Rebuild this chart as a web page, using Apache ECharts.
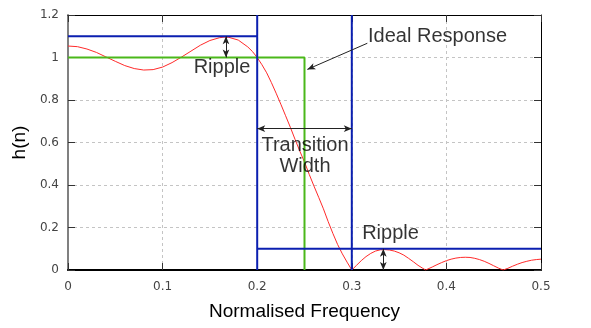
<!DOCTYPE html>
<html>
<head>
<meta charset="utf-8">
<script src="https://cdn.jsdelivr.net/npm/echarts@6/dist/echarts.min.js"></script>
<style>html,body{margin:0;padding:0;background:#fff;}#c{width:591px;height:328px;}</style>
</head>
<body>
<div id="c"></div>
<script>
// Frequency response
const freq = [0,0.01,0.02,0.03,0.04,0.05,0.06,0.07,0.08,0.09,0.10,0.11,0.12,0.13,0.14,0.15,0.16,0.165,0.17,0.18,0.19,0.195,0.20,0.205,0.21,0.215,0.22,0.225,0.23,0.235,0.24,0.245,0.25,0.255,0.26,0.265,0.27,0.275,0.28,0.285,0.29,0.295,0.30,0.305,0.31,0.315,0.32,0.325,0.33,0.335,0.34,0.345,0.35,0.355,0.36,0.365,0.37,0.375,0.378,0.38,0.385,0.39,0.395,0.40,0.405,0.41,0.415,0.42,0.425,0.43,0.435,0.44,0.445,0.45,0.455,0.46,0.465,0.47,0.475,0.48,0.485,0.49,0.495,0.50];
const mag = [1.054,1.051,1.040,1.024,1.003,0.982,0.962,0.948,0.941,0.943,0.955,0.976,1.002,1.030,1.058,1.080,1.093,1.096,1.095,1.082,1.050,1.028,1.000,0.966,0.928,0.882,0.832,0.780,0.726,0.672,0.615,0.560,0.508,0.450,0.395,0.342,0.288,0.228,0.172,0.120,0.076,0.037,0.0,0.022,0.044,0.063,0.078,0.089,0.095,0.096,0.094,0.089,0.081,0.070,0.055,0.039,0.022,0.008,0.0,0.004,0.014,0.025,0.035,0.044,0.051,0.056,0.059,0.060,0.059,0.055,0.049,0.041,0.031,0.020,0.009,0.0,0.008,0.018,0.027,0.035,0.041,0.046,0.049,0.051];

// Ideal response and tolerance bands
const idealResponse = [[0,1],[0.25,1],[0.25,0]];
const passbandRipple = [[0,1.1],[0.2,1.1],[0.2,1.2],[0.2,0]];
const stopEdge = [[0.3,1.2],[0.3,0]];
const stopbandRipple = [[0.2,0.1],[0.5,0.1]];

// Axis ticks
const xTicks = [0,0.1,0.2,0.3,0.4,0.5];
const yTicks = [0,0.2,0.4,0.6,0.8,1,1.2];

// Annotations (data coordinates)
const labels = [
  {text:'Ripple', at:[0.1628,0.952]},
  {text:'Ideal Response', at:[0.3906,1.101]},
  {text:'Transition\nWidth', at:[0.2505,0.536]},
  {text:'Ripple', at:[0.3409,0.174]}
];
const arrows = [
  {from:[0.167,1.1], to:[0.167,1.0], both:true},
  {from:[0.3164,1.067], to:[0.253,0.944], both:false},
  {from:[0.2,0.665], to:[0.3,0.665], both:true},
  {from:[0.3333,0.1], to:[0.3333,0.0], both:true}
];

const curve = freq.map((f,i)=>[f,mag[i]]);
const BLUE = '#0b1fb0';
const GREEN = '#4bb81a';
const FONT = 'Liberation Sans, Arial, sans-serif';

const chart = echarts.init(document.getElementById('c'), null, {renderer:'canvas'});
const axisCommon = {
  type:'value',
  axisTick:{show:true, inside:true, length:7, lineStyle:{color:'#333', width:1}},
  splitLine:{show:true, showMinLine:false, showMaxLine:false, lineStyle:{color:'#c4c4c4', type:[3,3], width:1}},
  axisLabel:{color:'#444', fontSize:12, fontFamily:'DejaVu Sans, sans-serif'}
};
chart.setOption({
  animation:false,
  backgroundColor:'#fff',
  grid:{left:68, right:50, top:15, bottom:58, show:false, containLabel:false},
  xAxis:[Object.assign({}, axisCommon, {
    min:0, max:0.5, interval:0.1,
    name:'Normalised Frequency', nameLocation:'middle', nameGap:32,
    nameTextStyle:{fontSize:19, color:'#000', fontFamily:FONT},
    axisLine:{show:true, lineStyle:{color:'#000', width:2}},
    axisLabel:Object.assign({}, axisCommon.axisLabel, {margin:11, formatter:v=>xTicks.includes(+v.toFixed(2))?String(+v.toFixed(2)):''})
  }),{
    type:'value', position:'top', min:0, max:0.5, interval:0.1,
    axisLine:{show:true, onZero:false, lineStyle:{color:'#000', width:1}}, axisLabel:{show:false}, splitLine:{show:false},
    axisTick:{show:true, inside:true, length:7, lineStyle:{color:'#333'}}
  }],
  yAxis:[Object.assign({}, axisCommon, {
    min:0, max:1.2, interval:0.2,
    name:'h(n)', nameLocation:'middle', nameGap:38, nameRotate:90,
    nameTextStyle:{fontSize:19, color:'#000', fontFamily:FONT},
    axisLine:{show:true, lineStyle:{color:'#808080', width:2}},
    axisLabel:Object.assign({}, axisCommon.axisLabel, {margin:9, formatter:v=>yTicks.includes(+v.toFixed(2))?String(+v.toFixed(2)):''})
  }),{
    type:'value', position:'right', min:0, max:1.2, interval:0.2,
    axisLine:{show:true, onZero:false, lineStyle:{color:'#000', width:1}}, axisLabel:{show:false}, splitLine:{show:false},
    axisTick:{show:true, inside:true, length:7, lineStyle:{color:'#333'}}
  }],
  series:[
    {type:'line', name:'response', data:curve, showSymbol:false, smooth:false,
     lineStyle:{color:'#ff2a2a', width:1}, z:2},
    {type:'line', name:'ideal', data:idealResponse, showSymbol:false,
     lineStyle:{color:GREEN, width:2}, z:3},
    {type:'line', name:'pass', data:passbandRipple, showSymbol:false,
     lineStyle:{color:BLUE, width:2}, z:4},
    {type:'line', name:'stopEdge', data:stopEdge, showSymbol:false,
     lineStyle:{color:BLUE, width:2}, z:4},
    {type:'line', name:'stop', data:stopbandRipple, showSymbol:false,
     lineStyle:{color:BLUE, width:2}, z:4,
     markLine:{
       silent:true, animation:false, symbolSize:[5,8],
       label:{show:false},
       lineStyle:{color:'#222', width:1, type:'solid'},
       data: arrows.map(a=>[
         {coord:a.from, symbol: a.both?'arrow':'none'},
         {coord:a.to, symbol:'arrow'}
       ])
     }},
    {type:'scatter', name:'labels', symbolSize:0, z:6, silent:true,
     data: labels.map(l=>({value:l.at, name:l.text})),
     label:{show:true, position:'inside', formatter:p=>p.name, color:'#000',
            fontSize:20, fontFamily:FONT, lineHeight:21, align:'center', verticalAlign:'middle'}}
  ]
});
</script>
</body>
</html>
